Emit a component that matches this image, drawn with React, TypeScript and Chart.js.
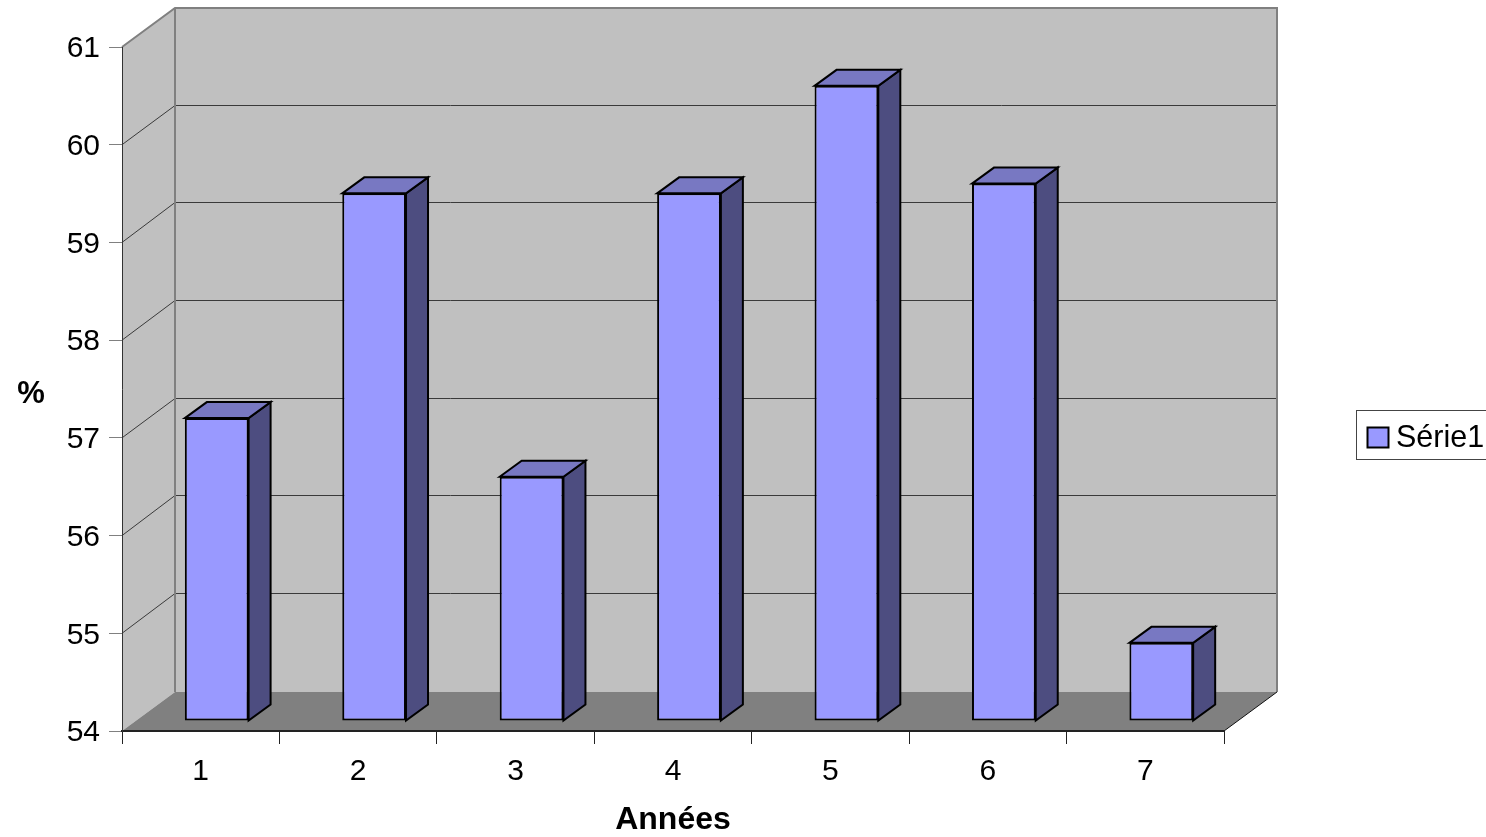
import React, { useEffect, useRef } from "react";
import { Chart, registerables } from "chart.js";

Chart.register(...registerables);

const categories = ["1", "2", "3", "4", "5", "6", "7"];
const values = [57.1, 59.4, 56.5, 59.4, 60.5, 59.5, 54.8];
const baseValue = 54;
const seriesName = "Série1";
const xTitle = "Années";
const yTitle = "%";

const FONT = "'Liberation Sans', Arial, sans-serif";
const WALL_DX = 53;
const WALL_DY = -39;
const BAR_OFF_X = 16;
const BAR_OFF_Y = -10;
const BAR_DX = 22;
const BAR_DY = -16;
const FRONT = "#9999ff";
const TOP = "#7878c2";
const SIDE = "#4d4d80";

function poly(ctx: CanvasRenderingContext2D, pts: number[][], fill: string | null, stroke: string | null, lw = 1) {
  ctx.beginPath();
  pts.forEach((p, i) => (i ? ctx.lineTo(p[0], p[1]) : ctx.moveTo(p[0], p[1])));
  if (fill) {
    ctx.closePath();
    ctx.fillStyle = fill;
    ctx.fill();
  }
  if (stroke) {
    ctx.strokeStyle = stroke;
    ctx.lineWidth = lw;
    ctx.stroke();
  }
}

const wallsPlugin = {
  id: "walls",
  beforeDraw(chart: any) {
    const { ctx, chartArea: a, scales } = chart;
    const y = scales.y;
    const L = a.left, R = a.right, T = a.top, B = a.bottom;
    const bx = L + WALL_DX;
    const rx = R + WALL_DX;
    const backTop = T + WALL_DY;
    const backBottom = B + WALL_DY;
    ctx.save();
    poly(ctx, [[bx, backTop], [rx, backTop], [rx, backBottom], [bx, backBottom]], "#c0c0c0", null);
    poly(ctx, [[L, T], [bx, backTop], [bx, backBottom], [L, B]], "#c0c0c0", null);
    poly(ctx, [[L, B], [R, B], [rx, backBottom], [bx, backBottom]], "#808080", null);
    y.ticks.forEach((t: any) => {
      if (t.value <= y.min || t.value >= y.max) return;
      const raw = y.getPixelForValue(t.value);
      const back = Math.floor(raw + WALL_DY - 0.7) + 0.5;
      poly(ctx, [[L, raw], [bx, back], [rx, back]], null, "#3a3a3a", 1);
    });
    poly(ctx, [[L, T], [bx, backTop], [rx, backTop], [rx, backBottom]], null, "#808080", 2);
    poly(ctx, [[bx, backTop], [bx, backBottom]], null, "#808080", 2);
    poly(ctx, [[R, B], [rx, backBottom]], null, "#111111", 1);
    ctx.restore();
  },
  beforeDatasetDraw(chart: any, args: any) {
    const { ctx } = chart;
    const meta = chart.getDatasetMeta(args.index);
    ctx.save();
    ctx.translate(BAR_OFF_X, BAR_OFF_Y);
    meta.data.forEach((el: any) => {
      const { x, y, width, base } = el.getProps(["x", "y", "width", "base"], true);
      const l = x - width / 2;
      const r = x + width / 2;
      poly(ctx, [[r, y], [r + BAR_DX, y + BAR_DY], [r + BAR_DX, base + BAR_DY], [r, base]], SIDE, "#000000", 2);
      poly(ctx, [[l, y], [l + BAR_DX, y + BAR_DY], [r + BAR_DX, y + BAR_DY], [r, y]], TOP, "#000000", 2);
    });
  },
  afterDatasetDraw(chart: any) {
    chart.ctx.restore();
  },
  afterDraw(chart: any) {
    const { ctx, chartArea: a } = chart;
    ctx.save();
    ctx.fillStyle = "#000000";
    ctx.font = `bold 31px ${FONT}`;
    ctx.textAlign = "center";
    ctx.textBaseline = "middle";
    ctx.fillText(yTitle, 31, (a.top + a.bottom) / 2 + 5);

    const lx = 1356.5, ly = 410.5, lw = 140, lh = 49;
    ctx.fillStyle = "#ffffff";
    ctx.fillRect(lx, ly, lw, lh);
    ctx.strokeStyle = "#444444";
    ctx.lineWidth = 1;
    ctx.strokeRect(lx, ly, lw, lh);
    ctx.fillStyle = FRONT;
    ctx.fillRect(1367.5, 427.5, 21, 20);
    ctx.strokeStyle = "#000000";
    ctx.lineWidth = 2;
    ctx.strokeRect(1367.5, 427.5, 21, 20);
    ctx.fillStyle = "#000000";
    ctx.font = `30.5px ${FONT}`;
    ctx.textAlign = "left";
    ctx.textBaseline = "alphabetic";
    ctx.fillText(seriesName, 1396, 447);
    ctx.restore();
  },
};

export default function App() {
  const ref = useRef<HTMLCanvasElement>(null);
  useEffect(() => {
    document.body.style.margin = "0";
    const chart = new Chart(ref.current as HTMLCanvasElement, {
      type: "bar",
      data: {
        labels: categories,
        datasets: [
          {
            label: seriesName,
            data: values,
            base: baseValue,
            backgroundColor: FRONT,
            borderColor: "#000000",
            borderWidth: 2,
            borderSkipped: false,
            categoryPercentage: 0.405,
            barPercentage: 1,
            clip: false as any,
          },
        ],
      },
      options: {
        responsive: false,
        animation: false,
        devicePixelRatio: 1,
        layout: { padding: { left: 0, right: 262, top: 47, bottom: 0 } },
        plugins: { legend: { display: false }, tooltip: { enabled: false } },
        scales: {
          x: {
            grid: { drawOnChartArea: false, color: "#222222", tickLength: 13, tickWidth: 1 },
            border: { color: "#222222", width: 2 },
            ticks: { color: "#000000", font: { family: FONT, size: 30 }, padding: 10, maxRotation: 0 },
            title: { display: true, text: xTitle, color: "#000000", font: { family: FONT, size: 32, weight: "bold" }, padding: { top: 0, bottom: -2 } },
            afterFit(scale: any) {
              scale.height = 106;
            },
          },
          y: {
            min: 54,
            max: 61,
            grid: { drawOnChartArea: false, color: "#808080", tickLength: 13, tickWidth: 1 },
            border: { color: "#333333", width: 1 },
            ticks: { stepSize: 1, color: "#000000", font: { family: FONT, size: 30 }, padding: 9, labelOffset: 2 },
            afterFit(scale: any) {
              scale.width = 122;
            },
          },
        },
      },
      plugins: [wallsPlugin],
    });
    return () => chart.destroy();
  }, []);
  return (
    <div style={{ position: "absolute", left: 0, top: 0, width: 1486, height: 837, overflow: "hidden", background: "#ffffff" }}>
      <canvas ref={ref} width={1486} height={837} style={{ display: "block" }} />
    </div>
  );
}
